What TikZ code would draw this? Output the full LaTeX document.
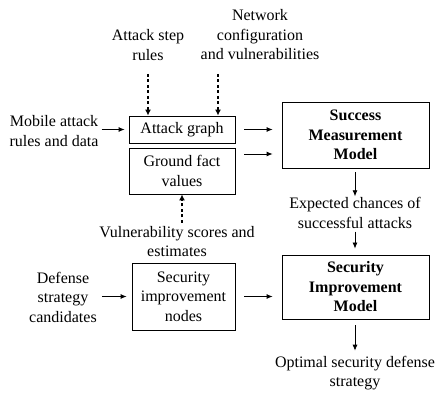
\documentclass[tikz,border=0pt]{standalone}
\usepackage{fontspec}
\setmainfont{Liberation Serif}
\usetikzlibrary{arrows.meta}
\begin{document}
\begin{tikzpicture}[x=1pt,y=-1pt,
  txt/.style={align=center,font=\fontsize{16}{19.5}\selectfont,inner sep=0pt},
  boxn/.style={draw,line width=0.8pt,align=center,inner sep=0pt,font=\fontsize{16}{19.5}\selectfont},
  boldbox/.style={boxn,font=\fontsize{16}{19.5}\selectfont\bfseries},
  arr/.style={line width=0.8pt,-{Latex[length=6pt,width=5pt]}},
  darr/.style={line width=1.6pt,dash pattern=on 3pt off 2.5pt,-{Latex[length=6pt,width=6pt]}}]
\useasboundingbox (0,0) rectangle (437,393);
% text nodes
\node[txt] (steprules) at (148,45) {Attack step\\rules};
\node[txt] (netconf) at (260,35) {Network\\configuration\\and vulnerabilities};
\node[txt] (mobile) at (54,131) {Mobile attack\\rules and data};
\node[txt] (expected) at (355,213) {Expected chances of\\successful attacks};
\node[txt] (vuln) at (177,241.5) {Vulnerability scores and\\estimates};
\node[txt] (defense) at (63,297) {Defense\\strategy\\candidates};
\node[txt] (optimal) at (355,373) {Optimal security defense\\strategy};
% boxes
\node[boxn,minimum width=106pt,minimum height=27pt] (ag) at (182,129.5) {Attack graph};
\node[boxn,minimum width=106pt,minimum height=46pt] (gf) at (182,171) {Ground fact\\values};
\node[boldbox,minimum width=147pt,minimum height=66pt] (smm) at (355.5,135) {Success\\Measurement\\Model};
\node[boldbox,minimum width=147pt,minimum height=64pt] (sim) at (355.5,287) {Security\\Improvement\\Model};
\node[boxn,minimum width=103pt,minimum height=67pt] (sin) at (183.5,296.5) {Security\\improvement\\nodes};
% free ends
\coordinate (d1s) at (148,74);
\coordinate (d2s) at (218,74);
\coordinate (d3s) at (182,223);
% connectors
\draw[darr] (d1s) -- (d1s |- ag.north);
\draw[darr] (d2s) -- (d2s |- ag.north);
\draw[darr] (d3s) -- (d3s |- gf.south);
\draw[arr,shorten <=3pt,shorten >=4pt] (mobile.east |- ag.west) -- (ag.west);
\draw[arr,shorten <=9pt,shorten >=9pt] (ag.east) -- (smm.west |- ag.east);
\draw[arr,shorten <=9pt,shorten >=9pt] (gf.east |- 0,154) -- (smm.west |- 0,154);
\draw[arr,shorten <=4pt,shorten >=1pt] (smm.south -| expected) -- (expected.north);
\draw[arr,shorten <=3pt,shorten >=6pt] (expected.south) -- (sim.north -| expected);
\draw[arr,shorten <=6pt,shorten >=5pt] (sim.south -| optimal) -- (optimal.north);
\draw[arr,shorten <=9pt,shorten >=9pt] (sin.east) -- (sim.west |- sin.east);
\draw[arr,shorten <=5pt,shorten >=5pt] (defense.east |- sin.west) -- (sin.west);
\end{tikzpicture}
\end{document}
